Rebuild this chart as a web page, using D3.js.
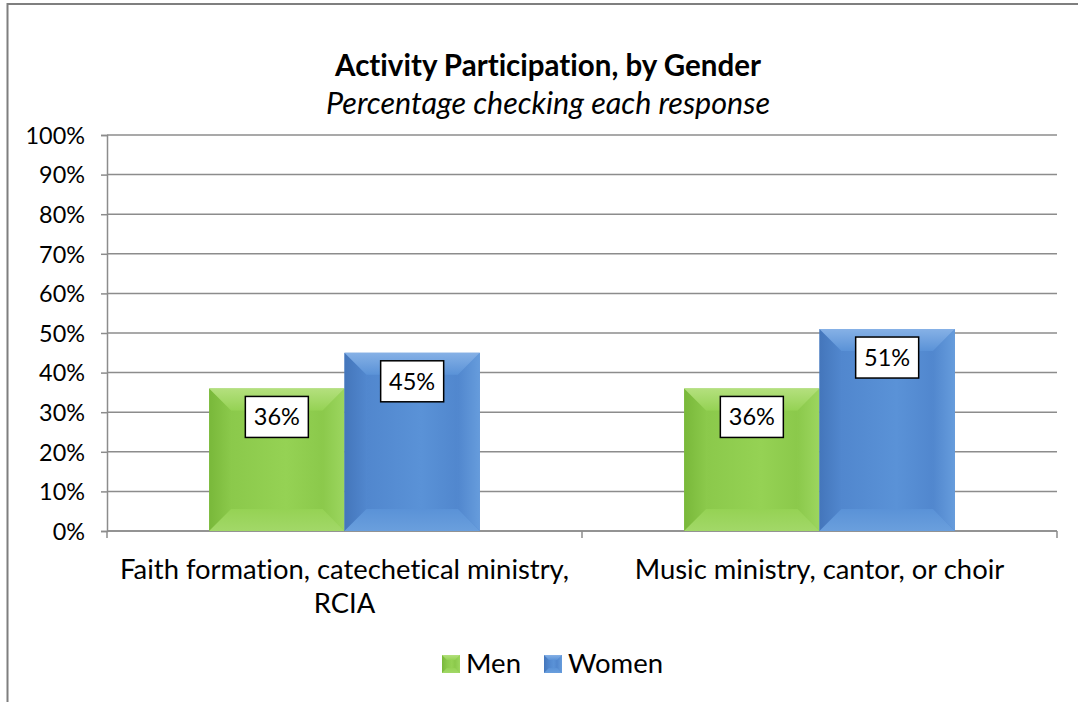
<!DOCTYPE html>
<html><head><meta charset="utf-8">
<script src="https://cdn.jsdelivr.net/npm/d3@7"></script>
<style>
body{margin:0;background:#fff}
svg{display:block}
text{font-family:Lato,"Open Sans",sans-serif;fill:#000;font-variant-ligatures:none;font-feature-settings:"liga" 0}
</style>
</head><body>
<svg id="chart" width="1078" height="702"></svg>
<script>
const categories = [["Faith formation, catechetical ministry,", "RCIA"], ["Music ministry, cantor, or choir"]];
const seriesNames = ["Men", "Women"];
const menValues = [36, 36];
const womenValues = [45, 51];
const yTickValues = [0, 10, 20, 30, 40, 50, 60, 70, 80, 90, 100];
const titleText = "Activity Participation, by Gender";
const subtitleText = "Percentage checking each response";

const palette = {
  Men:   {face:["#8bc94b","#95d254"], top:"#b4e07e", left:"#79b83a", right:"#9cd65f", bottom:"#a2d868"},
  Women: {face:["#5187ce","#5a92d7"], top:"#86b1e6", left:"#4476bb", right:"#669cdc", bottom:"#6a9fdd"}
};

const svg = d3.select("#chart");
svg.append("rect").attr("width",1078).attr("height",702).attr("fill","#fff");

// outer frame
svg.append("line").attr("x1",7.5).attr("x2",7.5).attr("y1",3).attr("y2",702).attr("stroke","#7f7f7f").attr("stroke-width",2);
svg.append("line").attr("x1",7).attr("x2",1078).attr("y1",4).attr("y2",4).attr("stroke","#7f7f7f").attr("stroke-width",2);

const plot = {left:107, right:1057, top:135, bottom:531};
const x = d3.scaleBand().domain(d3.range(categories.length)).range([plot.left, plot.right]).paddingInner(0).paddingOuter(0);
const xs = d3.scaleBand().domain(seriesNames).range([0, x.bandwidth()]).paddingInner(0).paddingOuter(0.755);
const y = d3.scaleLinear().domain([0,100]).range([plot.bottom, plot.top]);

const defs = svg.append("defs");
function grad(id, x2, y2, stops) {
  const g = defs.append("linearGradient").attr("id",id).attr("x1",0).attr("y1",0).attr("x2",x2).attr("y2",y2);
  stops.forEach(([o,c]) => g.append("stop").attr("offset",o).attr("stop-color",c));
}
seriesNames.forEach(s => {
  const p = palette[s];
  grad("face"+s, 1, 0, [[0,p.face[0]],[0.6,p.face[1]],[1,p.face[0]]]);
  grad("top"+s, 0, 1, [[0,p.top],[1,p.face[1]]]);
  grad("bottom"+s, 0, 1, [[0,p.face[1]],[1,p.bottom]]);
  grad("left"+s, 1, 0, [[0,p.left],[1,p.face[0]]]);
  grad("right"+s, 1, 0, [[0,p.face[0]],[1,p.right]]);
});

// gridlines
svg.append("g").selectAll("line").data(yTickValues).join("line")
  .attr("x1",plot.left).attr("x2",plot.right)
  .attr("y1",d=>y(d)).attr("y2",d=>y(d))
  .attr("stroke","#8c8c8c").attr("stroke-width",1.5);

// y axis
const yAxis = d3.axisLeft(y).tickValues(yTickValues).tickFormat(d=>d+"%").tickSize(6).tickPadding(16);
const gy = svg.append("g").attr("transform",`translate(${plot.left},0)`).call(yAxis);
gy.select(".domain").attr("stroke","#8c8c8c").attr("stroke-width",1.5);
gy.selectAll(".tick line").attr("stroke","#8c8c8c").attr("stroke-width",1.5);
gy.selectAll(".tick text").attr("font-size",23.4).attr("font-family","Lato").attr("fill","#000").attr("dy","0.35em");

// x axis line and ticks
svg.append("line").attr("x1",plot.left).attr("x2",plot.right).attr("y1",plot.bottom).attr("y2",plot.bottom).attr("stroke","#8c8c8c").attr("stroke-width",1.5);
const boundaries = d3.range(categories.length+1).map(i => i < categories.length ? x(i) : x(i-1)+x.bandwidth());
svg.append("g").selectAll("line").data(boundaries).join("line")
  .attr("x1",d=>d).attr("x2",d=>d).attr("y1",plot.bottom).attr("y2",plot.bottom+7)
  .attr("stroke","#8c8c8c").attr("stroke-width",1.5);

// bars
const barData = [];
categories.forEach((c,i) => {
  barData.push({cat:i, s:"Men", v:menValues[i]});
  barData.push({cat:i, s:"Women", v:womenValues[i]});
});

function bevel(g, x0, x1, y0, y1, s, b) {
  const pts = arr => arr.map(q=>q.join(",")).join(" ");
  g.append("rect").attr("x",x0).attr("y",y0).attr("width",x1-x0).attr("height",y1-y0).attr("fill",`url(#face${s})`);
  g.append("rect").attr("x",x0+b).attr("y",y0+b).attr("width",Math.max(0,x1-x0-2*b)).attr("height",Math.max(0,y1-y0-2*b)).attr("fill",`url(#face${s})`);
  g.append("polygon").attr("points",pts([[x0,y0],[x0+b,y0+b],[x0+b,y1-b],[x0,y1]])).attr("fill",`url(#left${s})`);
  g.append("polygon").attr("points",pts([[x1,y0],[x1-b,y0+b],[x1-b,y1-b],[x1,y1]])).attr("fill",`url(#right${s})`);
  g.append("polygon").attr("points",pts([[x0,y1],[x1,y1],[x1-b,y1-b],[x0+b,y1-b]])).attr("fill",`url(#bottom${s})`);
  g.append("polygon").attr("points",pts([[x0,y0],[x1,y0],[x1-b,y0+b],[x0+b,y0+b]])).attr("fill",`url(#top${s})`);
}

const barsG = svg.append("g");
barData.forEach(d => {
  const x0 = x(d.cat) + xs(d.s), x1 = x0 + xs.bandwidth();
  const y0 = y(d.v), y1 = y(0);
  bevel(barsG.append("g"), x0, x1, y0, y1, d.s, 22);
});

// data labels
const lab = svg.append("g");
barData.forEach(d => {
  const cx = x(d.cat) + xs(d.s) + xs.bandwidth()/2;
  const top = y(d.v) + 8;
  lab.append("rect").attr("x",cx-31.5).attr("y",top).attr("width",63).attr("height",41)
    .attr("fill","#fff").attr("stroke","#000").attr("stroke-width",1.5);
  lab.append("text").attr("x",cx).attr("y",top+29).attr("text-anchor","middle").attr("font-size",23.5).text(d.v+"%");
});

// category labels
categories.forEach((lines,i) => {
  const cx = x(i) + x.bandwidth()/2;
  lines.forEach((ln,j) => {
    svg.append("text").attr("x",cx).attr("y",579+j*34).attr("text-anchor","middle").attr("font-size",27.4).text(ln);
  });
});

// title
svg.append("text").attr("x",548).attr("y",76).attr("text-anchor","middle").attr("font-size",29.5).attr("font-weight","bold").text(titleText);
svg.append("text").attr("x",548).attr("y",114).attr("text-anchor","middle").attr("font-size",30.5).attr("font-style","italic").text(subtitleText);

// legend
const legendX = [442, 544];
seriesNames.forEach((s,i) => {
  const g = svg.append("g");
  bevel(g, legendX[i], legendX[i]+18, 655, 673, s, 5);
  svg.append("text").attr("x",legendX[i]+24).attr("y",673).attr("font-size",27.5).text(s);
});
</script>
</body></html>
